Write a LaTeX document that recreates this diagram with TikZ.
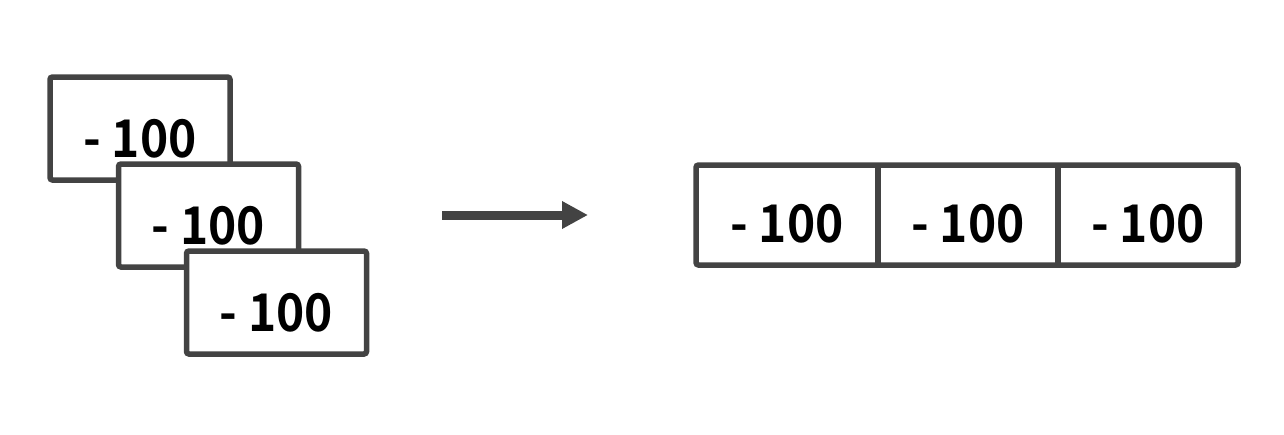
\documentclass[tikz,border=0pt]{standalone}
\usepackage{fontspec}
\newfontfamily\numfont{Noto Sans CJK SC Bold}[FakeStretch=0.92]
\usetikzlibrary{arrows.meta}
\definecolor{edge}{HTML}{434343}
\tikzset{
  card/.style={draw=edge, line width=5.5pt, rounded corners=2.5pt, fill=white, inner sep=0pt},
  num/.style={anchor=base, inner sep=0pt, font=\numfont\fontsize{52}{52}\selectfont},
  conn/.style={draw=edge, line width=9pt, -{Triangle[length=26pt,width=26pt]}, shorten >=0pt},
  divider/.style={draw=edge, line width=5.5pt}
}
\begin{document}
\begin{tikzpicture}[x=1pt,y=-1pt]
\useasboundingbox (0,0) rectangle (1284,434);
% stacked cards
\node[card, minimum width=180pt, minimum height=103pt] (c1) at (140,128.5) {};
\node[num] (t1) at (140,157) {- 100};
\node[card, minimum width=180pt, minimum height=103pt] (c2) at (208.5,215.5) {};
\node[num] (t2) at (208.5,244) {- 100};
\node[card, minimum width=180pt, minimum height=103pt] (c3) at (276.5,302.5) {};
\node[num] (t3) at (276.5,331) {- 100};
% arrow
\coordinate (a1) at (442,215);
\coordinate (a2) at (588,215);
\draw[conn] (a1) -- (a2);
% row
\node[card, minimum width=542pt, minimum height=100pt] (row) at (967,215) {};
\coordinate (d1t) at (878,165); \coordinate (d1b) at (878,265);
\coordinate (d2t) at (1058,165); \coordinate (d2b) at (1058,265);
\draw[divider] (d1t) -- (d1b);
\draw[divider] (d2t) -- (d2b);
\node[num] (r1) at (787,242) {- 100};
\node[num] (r2) at (968,242) {- 100};
\node[num] (r3) at (1148,242) {- 100};
\end{tikzpicture}
\end{document}
